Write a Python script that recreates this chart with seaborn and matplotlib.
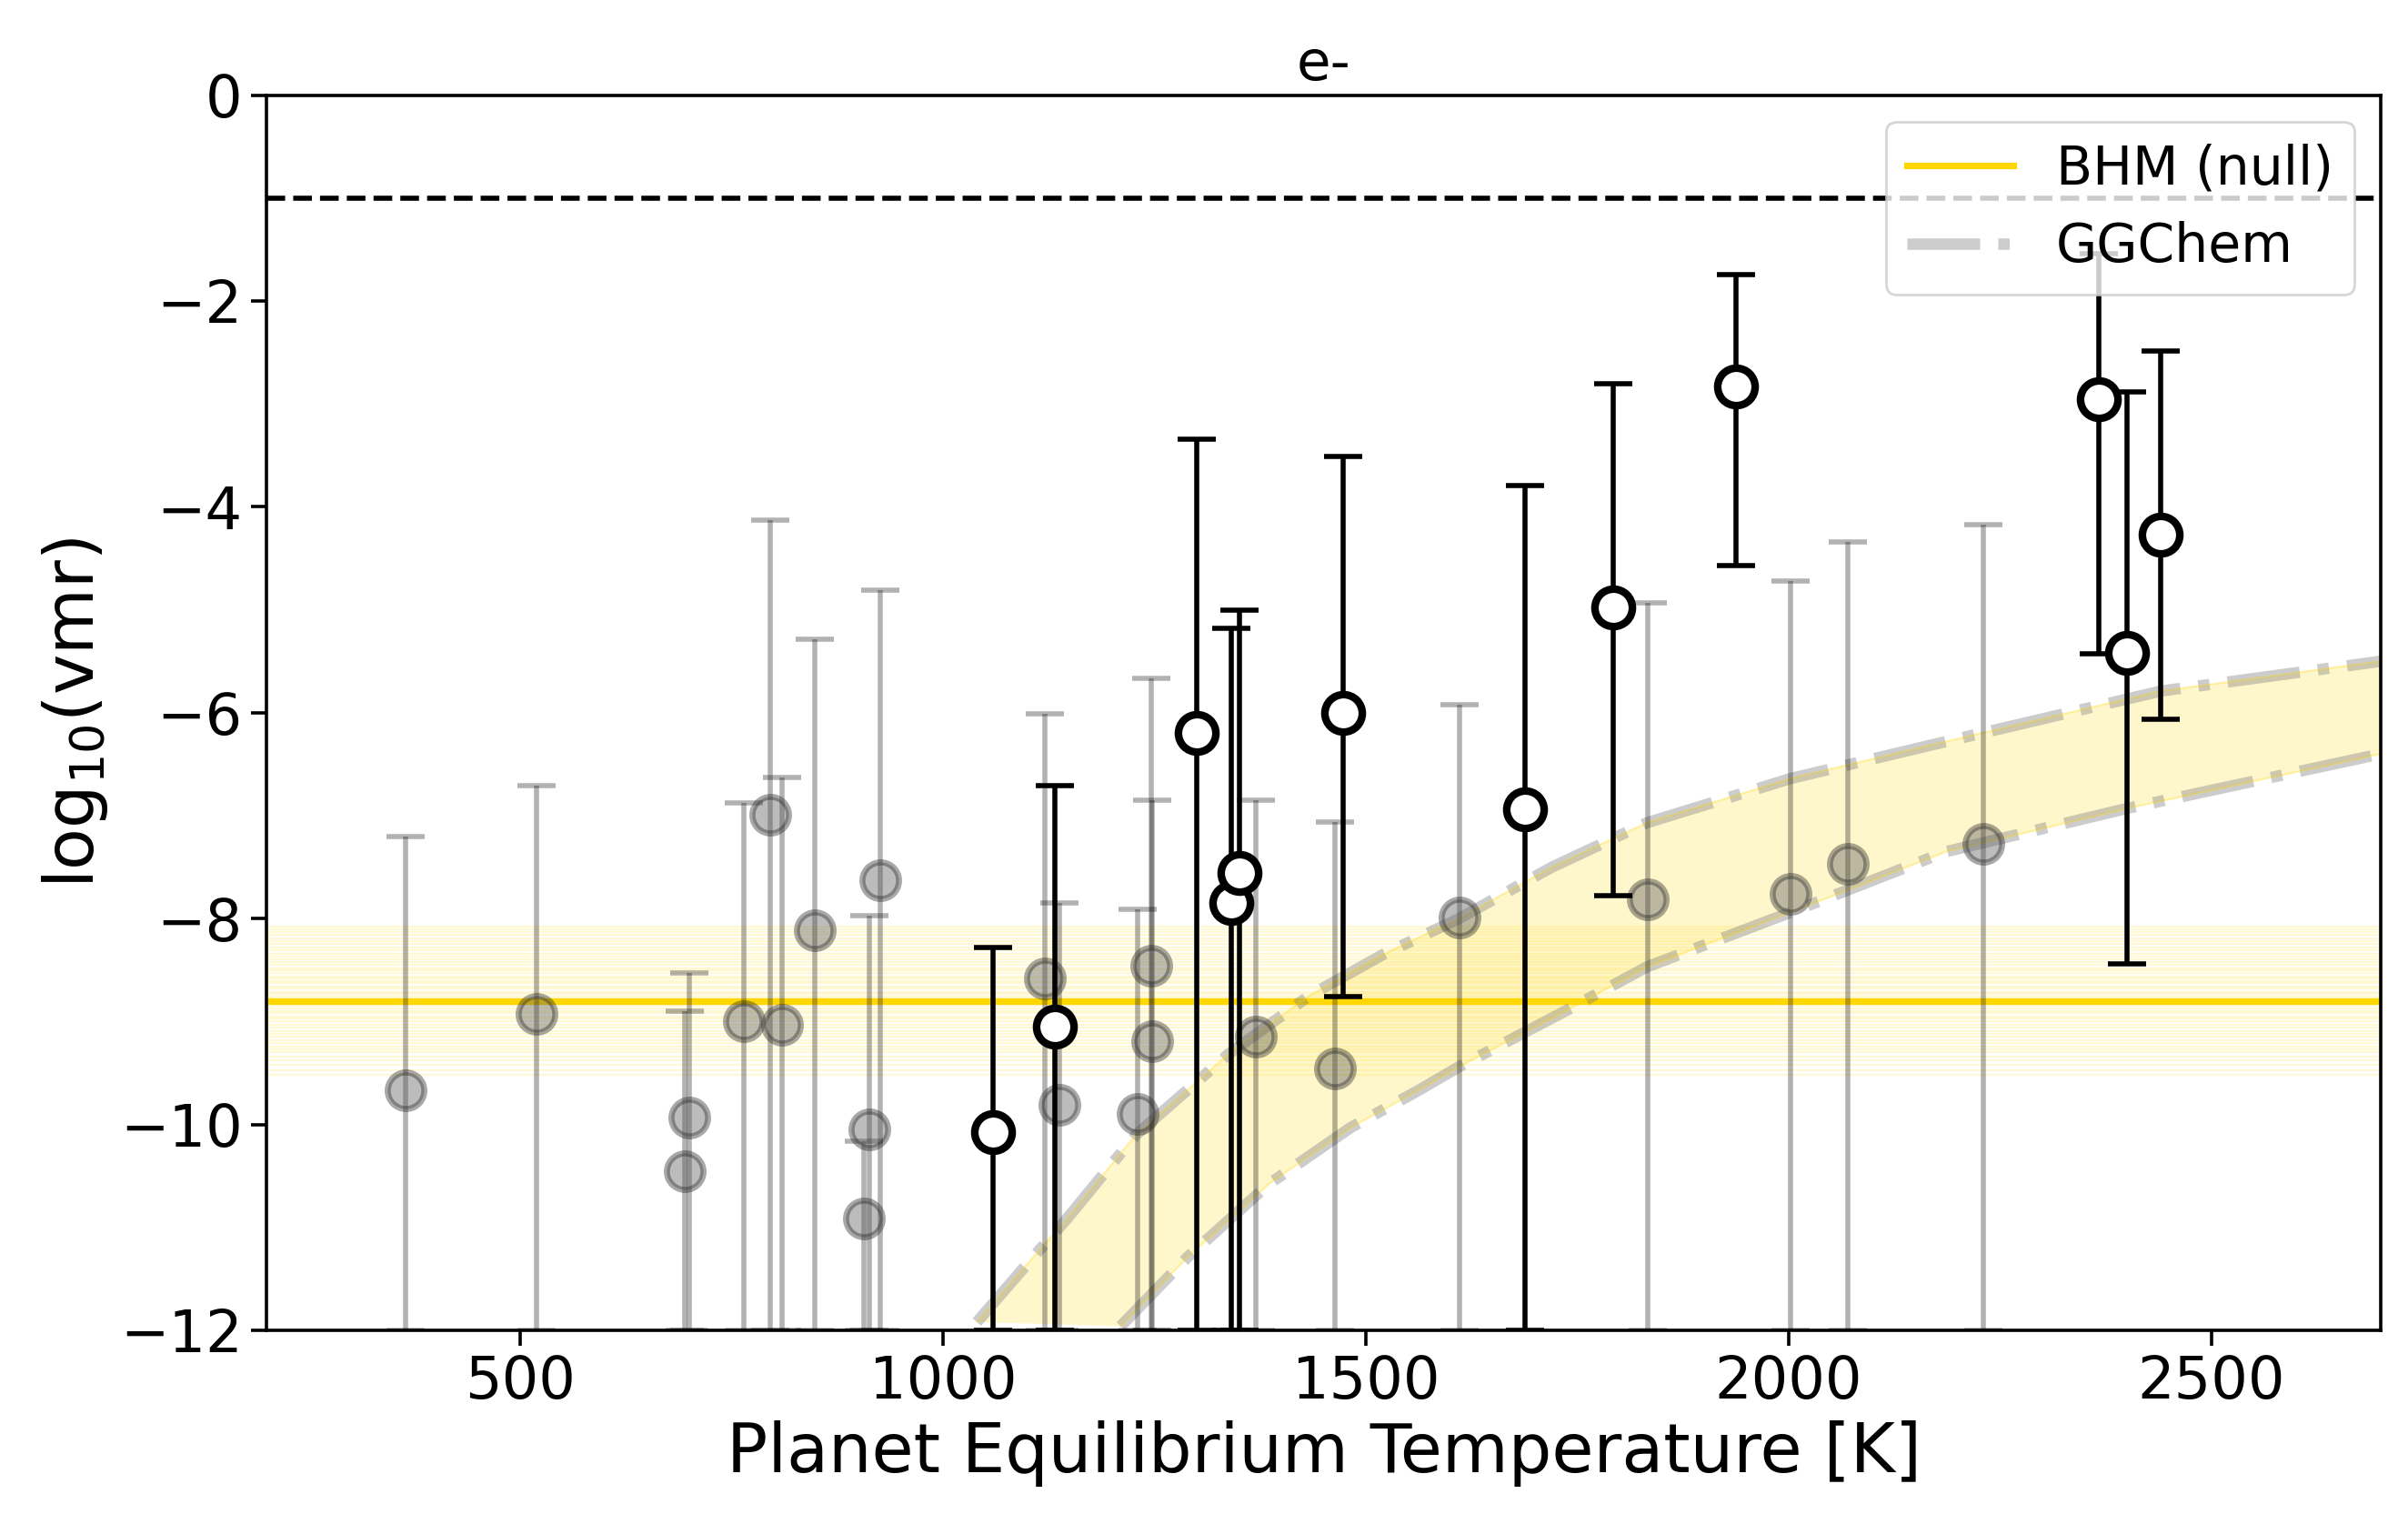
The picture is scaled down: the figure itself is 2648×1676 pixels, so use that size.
import numpy as np
import pandas as pd
import matplotlib
matplotlib.use("Agg")
import matplotlib.pyplot as plt
import seaborn as sns

# retrieved planets (open circles)
t_ret = [1059, 1132, 1300, 1341, 1350, 1473, 1688, 1792, 1938, 2367, 2400, 2440]
v_ret = [-10.07, -9.05, -6.20, -7.85, -7.56, -6.00, -6.94, -4.98, -2.83, -2.95, -5.42, -4.27]
lo_ret = [-12.0, -12.0, -12.0, -12.0, -12.0, -8.76, -12.0, -7.78, -4.57, -5.43, -8.44, -6.06]
hi_ret = [-8.28, -6.71, -3.34, -5.18, -5.00, -3.51, -3.79, -2.80, -1.74, -1.54, -2.88, -2.49]

# non-detections (grey)
t_nd = [364, 519, 694, 700, 764, 796, 810, 848, 906, 913, 926, 1120, 1137,
        1230, 1246, 1247, 1370, 1463, 1611, 1833, 2002, 2070, 2230]
v_nd = [-9.67, -8.93, -10.45, -9.93, -9.00, -6.99, -9.03, -8.11, -10.91, -10.05, -7.63,
        -8.58, -9.81, -9.90, -8.46, -9.19, -9.15, -9.46, -7.99, -7.81, -7.76, -7.47, -7.27]
hi_nd = [-7.20, -6.71, -8.90, -8.53, -6.88, -4.13, -6.63, -5.29, -10.16, -7.97, -4.81,
         -6.01, -7.85, -7.91, -5.67, -6.85, -6.85, -7.06, -5.92, -4.93, -4.72, -4.34, -4.17]
lo_nd = [-12.0] * len(t_nd)

# BHM (null) median and posterior draws
bhm_median = -8.80
bhm_draws = [-8.08, -8.10, -8.13, -8.16, -8.19, -8.22, -8.25, -8.28, -8.31, -8.34,
             -8.37, -8.40, -8.42, -8.45, -8.48, -8.50, -8.53, -8.56, -8.58, -8.61,
             -8.63, -8.66, -8.68, -8.71, -8.73, -8.76, -8.78, -8.82, -8.85, -8.87,
             -8.90, -8.92, -8.95, -8.97, -9.00, -9.03, -9.06, -9.09, -9.12, -9.15,
             -9.18, -9.21, -9.24, -9.27, -9.30, -9.34, -9.38, -9.42, -9.47, -9.52]

# GGChem envelope
gg_t_up = [1040, 1100, 1145, 1227, 1337, 1433, 1520, 1610, 1720, 1832, 2002, 2186, 2440, 2700]
gg_v_up = [-11.92, -11.35, -10.93, -10.11, -9.32, -8.75, -8.35, -8.00, -7.50, -7.07,
           -6.64, -6.28, -5.79, -5.50]
gg_t_lo = [1210, 1289, 1385, 1482, 1562, 1610, 1740, 1832, 2002, 2186, 2400, 2700]
gg_v_lo = [-11.96, -11.29, -10.58, -10.03, -9.67, -9.44, -8.88, -8.47, -7.94, -7.35,
           -6.93, -6.40]

ret = pd.DataFrame({"T": t_ret, "v": v_ret, "lo": lo_ret, "hi": hi_ret})
nd = pd.DataFrame({"T": t_nd, "v": v_nd, "lo": lo_nd, "hi": hi_nd})

fig, ax = plt.subplots(figsize=(13.24, 8.38), dpi=200)
fig.subplots_adjust(left=0.1107, right=0.9887, top=0.9376, bottom=0.1271)

for d in bhm_draws:
    ax.axhline(d, color="gold", alpha=0.17, lw=0.8, zorder=1)
ax.axhline(bhm_median, color="gold", lw=2.6, zorder=2, label="BHM (null)")

poly_t = list(gg_t_up) + list(gg_t_lo[::-1])
poly_v = list(gg_v_up) + list(gg_v_lo[::-1])
ax.fill(poly_t, poly_v, color="gold", alpha=0.2, lw=0, zorder=1)
sns.lineplot(x=gg_t_up, y=gg_v_up, ax=ax, color="grey", alpha=0.4, lw=4.5,
             linestyle="-.", zorder=2, label="GGChem", sort=False)
sns.lineplot(x=gg_t_lo, y=gg_v_lo, ax=ax, color="grey", alpha=0.4, lw=4.5,
             linestyle="-.", zorder=2, sort=False)
for tt, vv in [(gg_t_up, gg_v_up), (gg_t_lo, gg_v_lo)]:
    ax.plot(tt, vv, color="gold", alpha=0.3, lw=0.8, zorder=2)

ax.axhline(-1, color="black", ls="--", lw=2, zorder=2)

ax.errorbar(nd["T"], nd["v"], yerr=[nd["v"] - nd["lo"], nd["hi"] - nd["v"]],
            fmt="none", ecolor="black", alpha=0.3, elinewidth=2, capsize=7.5,
            capthick=2, zorder=3)
sns.scatterplot(data=nd, x="T", y="v", ax=ax, s=210, color="0.35", alpha=0.4,
                edgecolor="0.15", linewidth=2.4, zorder=4)

ax.errorbar(ret["T"], ret["v"], yerr=[ret["v"] - ret["lo"], ret["hi"] - ret["v"]],
            fmt="none", ecolor="black", elinewidth=2, capsize=7.5, capthick=2, zorder=5)
sns.scatterplot(data=ret, x="T", y="v", ax=ax, s=220, color="white",
                edgecolor="black", linewidth=3, zorder=6)

ax.set_xlim(200, 2700)
ax.set_ylim(-12, 0)
ax.set_yticks([-12, -10, -8, -6, -4, -2, 0])
ax.tick_params(labelsize=23, width=1.3, length=6)
ax.set_xlabel("Planet Equilibrium Temperature [K]", fontsize=27)
ax.set_ylabel("log$_{10}$(vmr)", fontsize=27)
ax.set_title("e-", fontsize=22)
for sp in ax.spines.values():
    sp.set_linewidth(1.3)

ax.legend(loc="upper right", fontsize=21)

fig.savefig("out.png", dpi=200)
